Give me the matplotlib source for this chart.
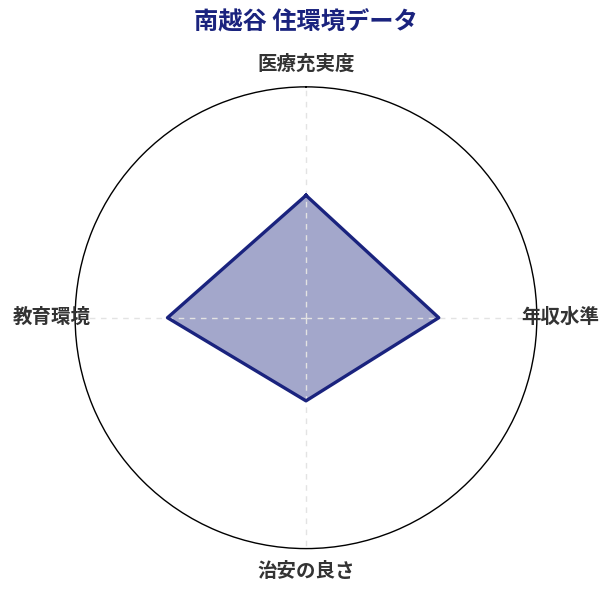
import numpy as np
import matplotlib.pyplot as plt

plt.rcParams['font.family'] = ['Noto Sans CJK JP', 'DejaVu Sans']

categories = ["医療充実度", "年収水準", "治安の良さ", "教育環境"]
values = [53, 57.5, 36, 60]
max_value = 100
title = "南越谷 住環境データ"

navy = "#1a237e"

angles = np.linspace(0, 2 * np.pi, len(categories), endpoint=False)
closed_angles = np.append(angles, angles[0])
closed_values = values + values[:1]

fig = plt.figure(figsize=(6.12, 5.95), dpi=100)
ax = fig.add_axes([0.1225, 0.078, 0.755, 0.776], projection="polar")
ax.set_theta_zero_location("N")
ax.set_theta_direction(-1)
ax.set_ylim(0, max_value)

ax.fill(closed_angles, closed_values, color=navy, alpha=0.4, zorder=1, linewidth=0)
ax.plot(closed_angles, closed_values, color=navy, linewidth=2.4, zorder=3)

ax.set_yticks([])
ax.set_xticks(angles)
ax.set_xticklabels([])
ax.xaxis.grid(True, color="#e3e3e3", linestyle=(0, (4, 4)), linewidth=1)
ax.spines["polar"].set_color("black")
ax.spines["polar"].set_linewidth(1)

for ang, cat in zip(angles, categories):
    ax.text(ang, max_value * 1.1, cat, ha="center", va="center",
            fontsize=14, fontweight="bold", color="#333333")

fig.text(0.5, 1 - 22.5 / 595, title, ha="center", va="center",
         fontsize=17.5, fontweight="bold", color=navy)

fig.savefig("out.png", dpi=100)
